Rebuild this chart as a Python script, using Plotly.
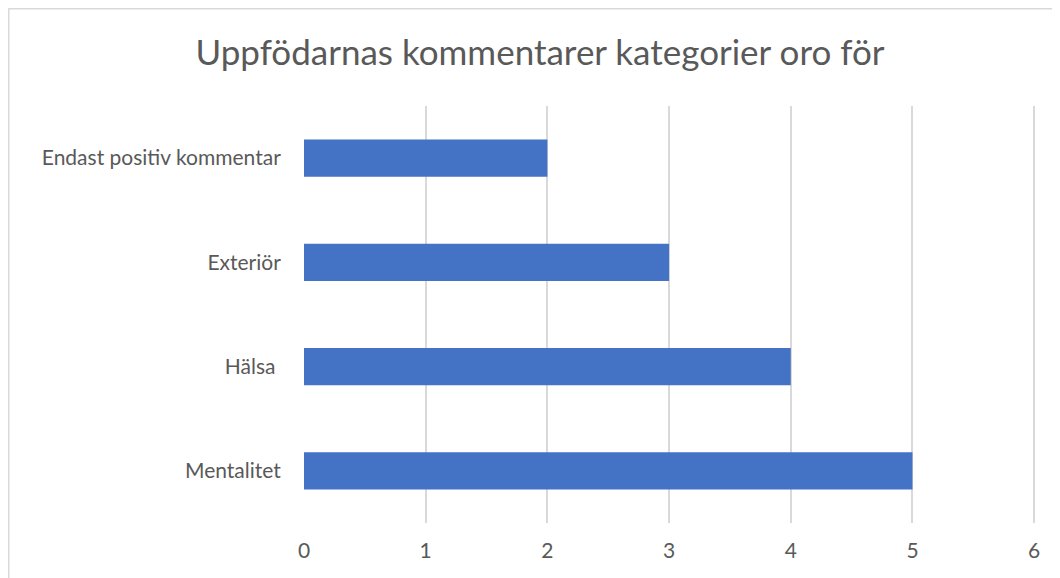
import plotly.graph_objects as go

categories = ['Mentalitet', 'Hälsa ', 'Exteriör', 'Endast positiv kommentar']
values = [5, 4, 3, 2]
x_ticks = [0, 1, 2, 3, 4, 5, 6]

# sidan har 8px marginal i body, så figurens koordinater är förskjutna
W, H = 1060, 578
L, R, T, B = 296, 32, 98, 63
pw, ph = W - L - R, H - T - B

text_c = '#595959'
grid_c = '#D9D9D9'
bar_c = '#4472C4'

fig = go.Figure()
fig.add_trace(go.Bar(
    y=categories, x=values, orientation='h',
    marker=dict(color=bar_c, line=dict(width=0)),
    hoverinfo='x+y',
))

# kantlinje runt diagrammet (bara övre + vänstra syns i bilden)
bx = (0.5 - L) / pw
by = (H - B - 0.5) / ph
fig.add_shape(type='line', xref='paper', yref='paper', x0=bx, x1=1.2, y0=by, y1=by,
              line=dict(color=grid_c, width=2))
fig.add_shape(type='line', xref='paper', yref='paper', x0=bx, x1=bx, y0=by, y1=-0.3,
              line=dict(color=grid_c, width=2))

fig.update_layout(
    width=W, height=H,
    paper_bgcolor='white', plot_bgcolor='white',
    font=dict(family='Lato', size=21, color=text_c),
    title=dict(text='Uppfödarnas kommentarer kategorier oro för',
               x=(540 - 8) / W, xanchor='center', y=1 - 45 / H, yanchor='middle',
               font=dict(size=35, color=text_c)),
    margin=dict(l=L, r=R, t=T, b=B),
    bargap=0.645,
    showlegend=False,
    # lite extra på slutet så att stödlinjen vid 6 ritas
    xaxis=dict(range=[0, 6.015], tickvals=x_ticks, showgrid=True, gridcolor=grid_c,
               gridwidth=1.5, zeroline=False, showline=False, ticks='outside',
               ticklen=9, tickcolor='white', tickfont=dict(size=21, color=text_c)),
    yaxis=dict(showgrid=False, zeroline=False, showline=False, ticks='outside',
               ticklen=18, tickcolor='white', tickfont=dict(size=21, color=text_c)),
)

fig.write_html('out.html')
